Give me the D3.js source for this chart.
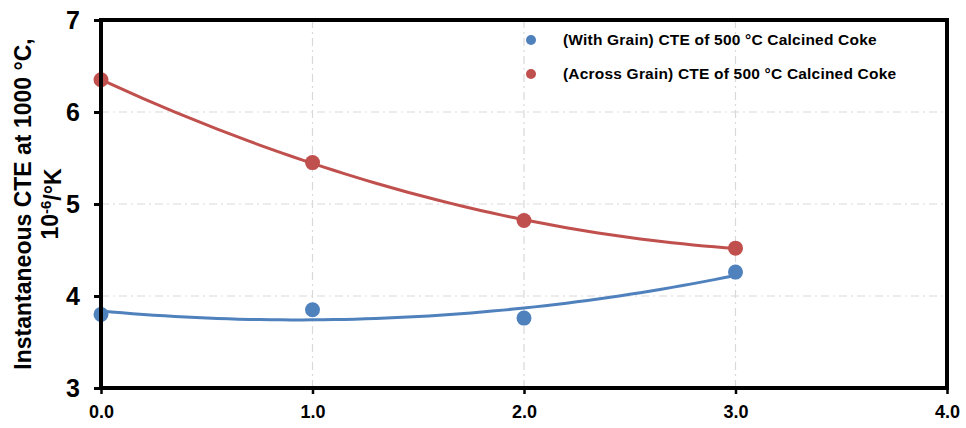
<!DOCTYPE html>
<html>
<head>
<meta charset="utf-8">
<script src="https://cdn.jsdelivr.net/npm/d3@7"></script>
<style>
  body { margin: 0; background: #fff; }
  text { font-family: Arial, "Liberation Sans", sans-serif; }
</style>
</head>
<body>
<div id="chart"></div>
<script>
// Data
const xValues = [0, 1, 2, 3];
const withGrain = [3.80, 3.85, 3.76, 4.26];
const acrossGrain = [6.35, 5.45, 4.82, 4.52];
const seriesNames = [
  "(With Grain) CTE of 500 °C Calcined Coke",
  "(Across Grain) CTE of 500 °C Calcined Coke"
];
const seriesColors = ["#4f81bd", "#c0504d"];
const xTicks = [0, 1, 2, 3, 4];
const yTicks = [3, 4, 5, 6, 7];

const width = 966, height = 428;
const margin = { top: 20, right: 19, bottom: 40, left: 101 };
const innerWidth = width - margin.left - margin.right;
const innerHeight = height - margin.top - margin.bottom;

const svg = d3.select("#chart").append("svg")
  .attr("width", width)
  .attr("height", height);

const g = svg.append("g")
  .attr("transform", `translate(${margin.left},${margin.top})`);

const x = d3.scaleLinear().domain([0, 4]).range([0, innerWidth]);
const y = d3.scaleLinear().domain([3, 7]).range([innerHeight, 0]);

// Gridlines (dash-dot)
g.append("g")
  .selectAll("line")
  .data(yTicks.slice(1, -1))
  .enter().append("line")
  .attr("x1", 0).attr("x2", innerWidth)
  .attr("y1", d => y(d)).attr("y2", d => y(d))
  .attr("stroke", "#d9d9d9").attr("stroke-width", 1.2)
  .attr("stroke-dasharray", "8,4,2,4");

g.append("g")
  .selectAll("line")
  .data(xTicks.slice(1, -1))
  .enter().append("line")
  .attr("y1", 0).attr("y2", innerHeight)
  .attr("x1", d => x(d)).attr("x2", d => x(d))
  .attr("stroke", "#d9d9d9").attr("stroke-width", 1.2)
  .attr("stroke-dasharray", "8,4,2,4");

// Quadratic least-squares trendline
function quadFit(xs, ys) {
  let s = [0, 0, 0, 0, 0], t = [0, 0, 0];
  xs.forEach((xv, i) => {
    for (let k = 0; k < 5; k++) s[k] += Math.pow(xv, k);
    for (let k = 0; k < 3; k++) t[k] += Math.pow(xv, k) * ys[i];
  });
  const A = [
    [s[0], s[1], s[2], t[0]],
    [s[1], s[2], s[3], t[1]],
    [s[2], s[3], s[4], t[2]]
  ];
  for (let i = 0; i < 3; i++) {
    for (let j = i + 1; j < 3; j++) {
      const f = A[j][i] / A[i][i];
      for (let k = i; k < 4; k++) A[j][k] -= f * A[i][k];
    }
  }
  const c = [0, 0, 0];
  for (let i = 2; i >= 0; i--) {
    let v = A[i][3];
    for (let k = i + 1; k < 3; k++) v -= A[i][k] * c[k];
    c[i] = v / A[i][i];
  }
  return xv => c[0] + c[1] * xv + c[2] * xv * xv;
}

const series = [withGrain, acrossGrain];
const line = d3.line().x(d => x(d[0])).y(d => y(d[1]));

series.forEach((vals, i) => {
  const f = quadFit(xValues, vals);
  const pts = d3.range(0, 3.0001, 0.05).map(v => [v, f(v)]);
  g.append("path")
    .datum(pts)
    .attr("d", line)
    .attr("fill", "none")
    .attr("stroke", seriesColors[i])
    .attr("stroke-width", 3);
});

series.forEach((vals, i) => {
  g.selectAll(".dot" + i)
    .data(vals)
    .enter().append("circle")
    .attr("class", "dot" + i)
    .attr("cx", (d, j) => x(xValues[j]))
    .attr("cy", d => y(d))
    .attr("r", 7.5)
    .attr("fill", seriesColors[i]);
});

// Frame
g.append("rect")
  .attr("width", innerWidth)
  .attr("height", innerHeight)
  .attr("fill", "none")
  .attr("stroke", "#000")
  .attr("stroke-width", 4);

// Axes
const yAxis = g.append("g")
  .call(d3.axisLeft(y).tickValues(yTicks).tickSize(7).tickPadding(14).tickFormat(d3.format("d")));
yAxis.select(".domain").remove();
yAxis.selectAll("line").attr("stroke-width", 3);
yAxis.selectAll("text")
  .style("font-size", "25px")
  .style("font-weight", "bold")
  .attr("fill", "#000");

const xAxis = g.append("g")
  .attr("transform", `translate(0,${innerHeight})`)
  .call(d3.axisBottom(x).tickValues(xTicks).tickSize(6).tickPadding(11).tickFormat(d3.format(".1f")));
xAxis.select(".domain").remove();
xAxis.selectAll("line").attr("stroke-width", 2.5);
xAxis.selectAll("text")
  .style("font-size", "18px")
  .style("font-weight", "bold")
  .attr("fill", "#000");

// Y-axis title
const yTitle = svg.append("text")
  .attr("transform", "translate(23,204) rotate(-90)")
  .attr("text-anchor", "middle")
  .style("font-size", "23px")
  .style("font-weight", "bold");
yTitle.append("tspan").attr("x", 0).attr("dy", "0.35em").text("Instantaneous CTE at 1000 °C,");
const l2 = yTitle.append("tspan").attr("x", 0).attr("dy", "1.15em");
l2.append("tspan").text("10");
l2.append("tspan").attr("dy", "-0.45em").style("font-size", "15px").text("-6");
l2.append("tspan").attr("dy", "0.45em").text("/°K");

// Legend
const legend = svg.append("g").attr("transform", "translate(531,40)");
const items = legend.selectAll("g")
  .data(seriesNames)
  .enter().append("g")
  .attr("transform", (d, i) => `translate(0,${i * 34})`);
items.append("circle").attr("r", 5).attr("fill", (d, i) => seriesColors[i]);
items.append("text")
  .attr("x", 32)
  .attr("dy", "0.35em")
  .style("font-size", "15.5px")
  .style("letter-spacing", "0.2px")
  .style("font-weight", "bold")
  .text(d => d);
</script>
</body>
</html>
